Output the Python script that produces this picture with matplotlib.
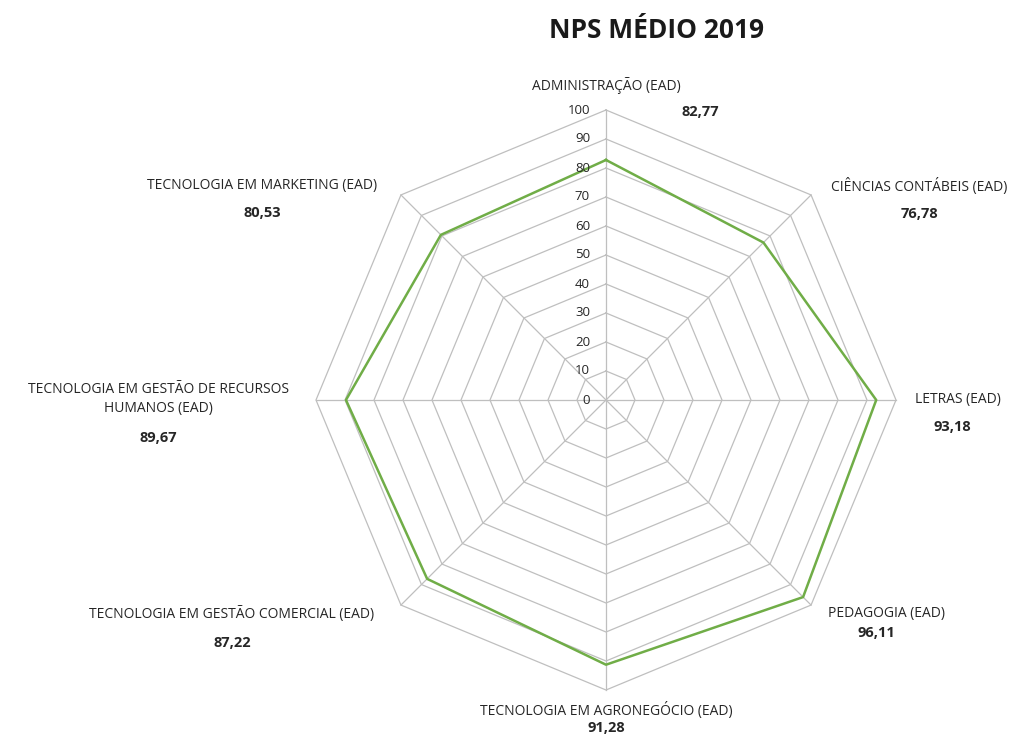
import numpy as np
import matplotlib
matplotlib.use("Agg")
import matplotlib.pyplot as plt

# ---- data ----
categories = [
    "ADMINISTRAÇÃO (EAD)",
    "CIÊNCIAS CONTÁBEIS (EAD)",
    "LETRAS (EAD)",
    "PEDAGOGIA (EAD)",
    "TECNOLOGIA EM AGRONEGÓCIO (EAD)",
    "TECNOLOGIA EM GESTÃO COMERCIAL (EAD)",
    "TECNOLOGIA EM GESTÃO DE RECURSOS\nHUMANOS (EAD)",
    "TECNOLOGIA EM MARKETING (EAD)",
]
values = [82.77, 76.78, 93.18, 96.11, 91.28, 87.22, 89.67, 80.53]
value_labels = ["82,77", "76,78", "93,18", "96,11", "91,28", "87,22", "89,67", "80,53"]
ticks = [0, 10, 20, 30, 40, 50, 60, 70, 80, 90, 100]
title = "NPS MÉDIO 2019"

# ---- layout ----
W, H, DPI = 1021, 736, 100
cx, cy, R = 606, 400, 290  # pixel centre and radius of 100
scale = R / 100.0
FONT = ["Open Sans", "DejaVu Sans"]

fig = plt.figure(figsize=(W / DPI, H / DPI), dpi=DPI)
ax = fig.add_axes([0, 0, 1, 1])
ax.set_xlim(-cx / scale, (W - cx) / scale)
ax.set_ylim(-(H - cy) / scale, cy / scale)
ax.axis("off")

n = len(categories)
angles = np.pi / 2 - np.arange(n) * 2 * np.pi / n

grid_col = "#bfbfbf"
# concentric octagons
for t in ticks[1:]:
    xs = t * np.cos(np.append(angles, angles[0]))
    ys = t * np.sin(np.append(angles, angles[0]))
    ax.plot(xs, ys, color=grid_col, lw=0.9, zorder=1)
# spokes
for a in angles:
    ax.plot([0, 100 * np.cos(a)], [0, 100 * np.sin(a)], color=grid_col, lw=0.9, zorder=1)

# data line
v = np.array(values)
xs = v * np.cos(angles)
ys = v * np.sin(angles)
ax.plot(np.append(xs, xs[0]), np.append(ys, ys[0]), color="#70ad47", lw=1.8, zorder=3)

# tick labels
for t in ticks:
    ax.text(-5.5, t, str(t), ha="right", va="center", fontsize=9.5,
            family=FONT, color="#262626", zorder=4)

# category label positions (pixels) and value label positions (pixels)
cat_pos = [(606, 85), (919, 186), (958, 400), (886, 614), (606, 711),
           (232, 614), (158, 399), (262, 186)]
val_pos = [(700, 112), (919, 214), (952, 427), (876, 633), (606, 728),
           (232, 643), (158, 438), (262, 213)]

for cat, (px, py) in zip(categories, cat_pos):
    fig.text(px / W, 1 - py / H, cat, ha="center", va="center", fontsize=10,
             family=FONT, color="#262626", linespacing=1.45)
for lab, (px, py) in zip(value_labels, val_pos):
    fig.text(px / W, 1 - py / H, lab, ha="center", va="center", fontsize=10.5,
             family=FONT, color="#262626", fontweight="bold")

fig.text(656 / W, 1 - 30 / H, title, ha="center", va="center", fontsize=19,
         family=FONT, fontweight="bold", color="#1a1a1a")

fig.savefig("out.png", dpi=DPI)
